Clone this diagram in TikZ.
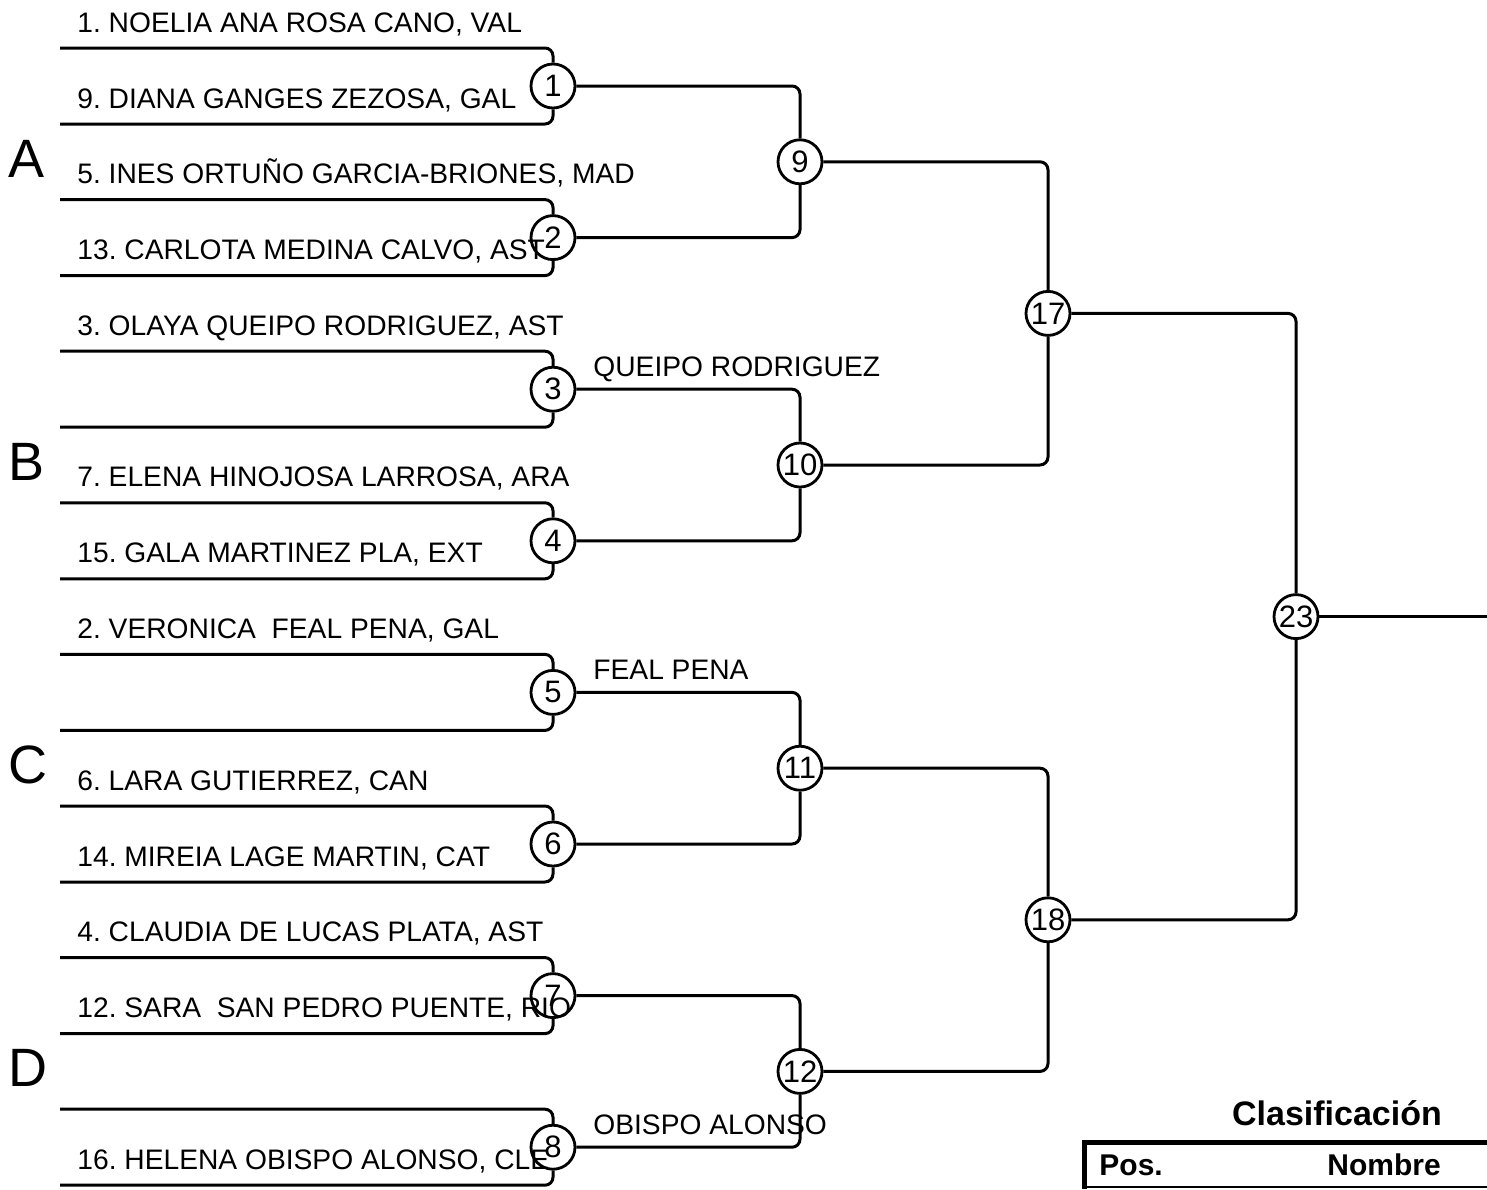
\documentclass[tikz,border=0pt]{standalone}
\usepackage{fontspec}
\setmainfont{Liberation Sans}
\frenchspacing
\begin{document}
\begin{tikzpicture}[x=0.5pt,y=-0.5pt,
  bline/.style={line width=1.5pt, rounded corners=4pt},
  mc/.style={circle, draw, line width=1.4pt, minimum size=22pt, inner sep=0pt, font=\fontsize{15.5}{15.5}\selectfont},
  pname/.style={anchor=base west, inner sep=0pt, font=\fontsize{14.1}{16}\selectfont},
  grp/.style={anchor=base west, inner sep=0pt, font=\fontsize{27}{30}\selectfont},
]
\useasboundingbox (0,0) rectangle (1487,1189);

% first round matches
\foreach \k [evaluate=\k as \n using int(\k+1)] in {0,...,7} {
  \pgfmathsetmacro\t{48+151.6*\k}
  \node[mc] (m\n) at (553,\t+38) {\n};
  \coordinate (sa\n) at (60,\t);
  \coordinate (sb\n) at (60,\t+76);
  \draw[bline] (sa\n) -| (m\n.north);
  \draw[bline] (sb\n) -| (m\n.south);
}

% later rounds
\node[mc] (m9)  at (800,161.8) {9};
\node[mc] (m10) at (800,465)   {10};
\node[mc] (m11) at (800,768.2) {11};
\node[mc] (m12) at (800,1071.4){12};
\node[mc] (m17) at (1048,313.4){17};
\node[mc] (m18) at (1048,919.8){18};
\node[mc] (m23) at (1296,616.6){23};
\coordinate (fin) at (1487,616.6);

\draw[bline] (m1.east) -| (m9.north);
\draw[bline] (m2.east) -| (m9.south);
\draw[bline] (m3.east) -| (m10.north);
\draw[bline] (m4.east) -| (m10.south);
\draw[bline] (m5.east) -| (m11.north);
\draw[bline] (m6.east) -| (m11.south);
\draw[bline] (m7.east) -| (m12.north);
\draw[bline] (m8.east) -| (m12.south);
\draw[bline] (m9.east) -| (m17.north);
\draw[bline] (m10.east) -| (m17.south);
\draw[bline] (m11.east) -| (m18.north);
\draw[bline] (m12.east) -| (m18.south);
\draw[bline] (m17.east) -| (m23.north);
\draw[bline] (m18.east) -| (m23.south);
\draw[bline] (m23.east) -- (fin);

% player names
\node[pname] (p1)  at (77,32)     {1. NOELIA ANA ROSA CANO, VAL};
\node[pname] (p2)  at (77,108)    {9. DIANA GANGES ZEZOSA, GAL};
\node[pname] (p3)  at (77,183.6)  {5. INES ORTUÑO GARCIA-BRIONES, MAD};
\node[pname] (p4)  at (77,259.6)  {13. CARLOTA MEDINA CALVO, AST};
\node[pname] (p5)  at (77,335.2)  {3. OLAYA QUEIPO RODRIGUEZ, AST};
\node[pname] (p7)  at (77,486.8)  {7. ELENA HINOJOSA LARROSA, ARA};
\node[pname] (p8)  at (77,562.8)  {15. GALA MARTINEZ PLA, EXT};
\node[pname] (p9)  at (77,638.4)  {2. VERONICA\ \ FEAL PENA, GAL};
\node[pname] (p11) at (77,790)    {6. LARA GUTIERREZ, CAN};
\node[pname] (p12) at (77,866)    {14. MIREIA LAGE MARTIN, CAT};
\node[pname] (p13) at (77,941.6)  {4. CLAUDIA DE LUCAS PLATA, AST};
\node[pname] (p14) at (77,1017.6) {12. SARA\ \ SAN PEDRO PUENTE, RIO};
\node[pname] (p16) at (77,1169.2) {16. HELENA OBISPO ALONSO, CLE};

% winner labels
\node[pname] (w3) at (593,376)  {QUEIPO RODRIGUEZ};
\node[pname] (w5) at (593,679)  {FEAL PENA};
\node[pname] (w8) at (593,1134) {OBISPO ALONSO};

% group letters
\node[grp] (gA) at (8,177)  {A};
\node[grp] (gB) at (8,480)  {B};
\node[grp] (gC) at (8,783)  {C};
\node[grp] (gD) at (8,1086) {D};

% classification table
\node[anchor=base, inner sep=0pt, font=\bfseries\fontsize{17}{20}\selectfont] (cl) at (1337,1125) {Clasificación};
\coordinate (tl) at (1084.5,1142);
\coordinate (tr) at (1487,1142);
\coordinate (bl) at (1084.5,1189);
\coordinate (br) at (1487,1187);
\draw[line width=2.5pt] (1082,1142) -- (tr);
\draw[line width=2.5pt] (tl) -- (bl);
\draw[line width=0.8pt] (1084.5,1187) -- (br);
\node[anchor=base west, inner sep=0pt, font=\bfseries\fontsize{15}{18}\selectfont] (pos) at (1099,1175) {Pos.};
\node[anchor=base west, inner sep=0pt, font=\bfseries\fontsize{15}{18}\selectfont] (nom) at (1327,1175) {Nombre};
\end{tikzpicture}
\end{document}
